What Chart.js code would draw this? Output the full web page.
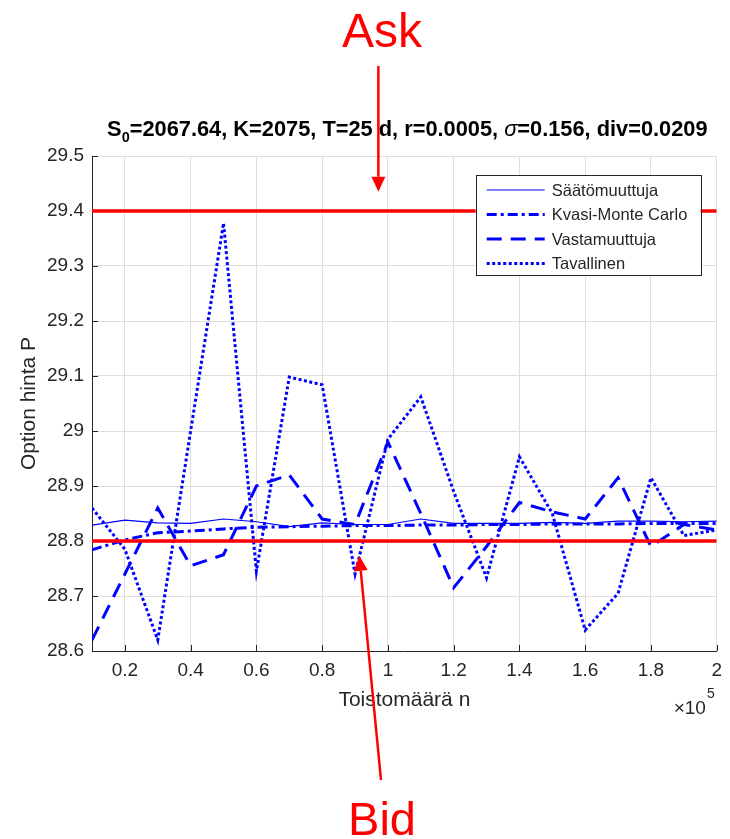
<!DOCTYPE html>
<html><head><meta charset="utf-8">
<script src="https://cdn.jsdelivr.net/npm/chart.js@4.4.1/dist/chart.umd.min.js"></script>
<style>html,body{margin:0;padding:0;background:#fff;}canvas{display:block;}</style>
</head><body>
<canvas id="c" width="730" height="839"></canvas>
<script>
// ---- data (n = number of repetitions) ----
const nValues = [10000, 20000, 30000, 40000, 50000, 60000, 70000, 80000, 90000, 100000,
                 110000, 120000, 130000, 140000, 150000, 160000, 170000, 180000, 190000, 200000];
const saatomuuttuja   = [28.829, 28.838, 28.833, 28.832, 28.840, 28.835, 28.826, 28.833, 28.830, 28.830,
                         28.840, 28.832, 28.832, 28.832, 28.834, 28.832, 28.836, 28.836, 28.835, 28.836];
const kvasiMonteCarlo = [28.784, 28.802, 28.815, 28.818, 28.822, 28.825, 28.826, 28.827, 28.828, 28.828,
                         28.829, 28.829, 28.830, 28.830, 28.831, 28.831, 28.831, 28.832, 28.832, 28.832];
const vastamuuttuja   = [28.62, 28.74, 28.86, 28.755, 28.775, 28.90, 28.92, 28.84, 28.83, 28.98,
                         28.85, 28.715, 28.79, 28.87, 28.853, 28.84, 28.915, 28.79, 28.83, 28.82];
const tavallinen      = [28.86, 28.785, 28.62, 29.00, 29.378, 28.745, 29.098, 29.084, 28.74, 28.985,
                         29.062, 28.89, 28.733, 28.953, 28.85, 28.638, 28.705, 28.915, 28.81, 28.82];
const askPrice = 29.4;
const bidPrice = 28.8;
const seriesNames = ['Säätömuuttuja', 'Kvasi-Monte Carlo', 'Vastamuuttuja', 'Tavallinen'];
const xTickValues = [20000, 40000, 60000, 80000, 100000, 120000, 140000, 160000, 180000, 200000];
const xTickLabels = ['0.2', '0.4', '0.6', '0.8', '1', '1.2', '1.4', '1.6', '1.8', '2'];
const yTickValues = [28.6, 28.7, 28.8, 28.9, 29.0, 29.1, 29.2, 29.3, 29.4, 29.5];
const yTickLabels = ['28.6', '28.7', '28.8', '28.9', '29', '29.1', '29.2', '29.3', '29.4', '29.5'];
const askArrowPoint = {n: 97100, v: 29.435};
const bidArrowPoint = {n: 91300, v: 28.773};

// ---- styles ----
const TXT = '#262626';
const FAM = '"Liberation Sans", Arial, Helvetica, sans-serif';
const BLUE = '#0000ff';
const RED = '#ff0000';
Chart.defaults.font.family = FAM;

function pts(arr) { return nValues.map((n, i) => ({x: n, y: arr[i]})); }
function flat(v) { return [{x: nValues[0], y: v}, {x: nValues[nValues.length - 1], y: v}]; }

const blueStyles = [
  {borderWidth: 1.2, borderDash: []},
  {borderWidth: 3, borderDash: [10, 4, 3, 4]},
  {borderWidth: 3, borderDash: [15, 9]},
  {borderWidth: 3, borderDash: [3, 2.5]}
];
const blueData = [saatomuuttuja, kvasiMonteCarlo, vastamuuttuja, tavallinen];

function drawArrow(ctx, x0, y0, x1, y1) {
  const ang = Math.atan2(y1 - y0, x1 - x0);
  const L = 15, W = 7;
  const bx = x1 - L * Math.cos(ang), by = y1 - L * Math.sin(ang);
  ctx.strokeStyle = RED; ctx.fillStyle = RED; ctx.lineWidth = 2.5; ctx.setLineDash([]);
  ctx.beginPath(); ctx.moveTo(x0, y0); ctx.lineTo(bx, by); ctx.stroke();
  ctx.beginPath();
  ctx.moveTo(x1, y1);
  ctx.lineTo(bx + W * Math.sin(ang), by - W * Math.cos(ang));
  ctx.lineTo(bx - W * Math.sin(ang), by + W * Math.cos(ang));
  ctx.closePath(); ctx.fill();
}

const extras = {
  id: 'extras',
  beforeDatasetsDraw(chart) {
    const {ctx, chartArea: a, scales: {x, y}} = chart;
    ctx.save();
    ctx.strokeStyle = TXT; ctx.lineWidth = 1;
    ctx.beginPath();
    yTickValues.forEach(v => { const py = Math.round(y.getPixelForValue(v)) + 0.5; ctx.moveTo(a.left, py); ctx.lineTo(a.left + 6, py); });
    xTickValues.forEach(v => { const px = Math.round(x.getPixelForValue(v)) + 0.5; ctx.moveTo(px, a.bottom); ctx.lineTo(px, a.bottom - 6); });
    ctx.stroke();
    ctx.restore();
  },
  afterDraw(chart) {
    const {ctx, chartArea: a, scales: {x, y}} = chart;
    ctx.save();
    // title
    const segs = [
      {t: 'S', f: 'bold 21.8px ' + FAM, dy: 0},
      {t: '0', f: 'bold 14.5px ' + FAM, dy: 6},
      {t: '=2067.64, K=2075, T=25 d, r=0.0005, ', f: 'bold 21.8px ' + FAM, dy: 0},
      {t: 'σ', f: 'italic 21.8px ' + FAM, dy: 0},
      {t: '=0.156, div=0.0209', f: 'bold 21.8px ' + FAM, dy: 0}
    ];
    let total = 0;
    segs.forEach(s => { ctx.font = s.f; s.w = ctx.measureText(s.t).width; total += s.w; });
    let tx = (a.left + a.right) / 2 + 3 - total / 2;
    ctx.fillStyle = '#000'; ctx.textBaseline = 'alphabetic'; ctx.textAlign = 'left';
    segs.forEach(s => { ctx.font = s.f; ctx.fillText(s.t, tx, 136 + s.dy); tx += s.w; });

    // exponent label
    ctx.fillStyle = TXT;
    ctx.font = '19px ' + FAM;
    const w1 = ctx.measureText('×10').width;
    ctx.font = '14px ' + FAM;
    const w2 = ctx.measureText('5').width;
    const ex = a.right - w1 - w2;
    ctx.font = '19px ' + FAM; ctx.fillText('×10', ex - 3, 714);
    ctx.font = '14px ' + FAM; ctx.fillText('5', ex - 3 + w1 + 1, 698);

    // legend
    const bw = 225, bh = 100;
    const bx = a.right - 16 - bw, by = a.top + 19;
    ctx.fillStyle = '#fff'; ctx.fillRect(bx, by, bw, bh);
    ctx.strokeStyle = TXT; ctx.lineWidth = 1; ctx.setLineDash([]);
    ctx.strokeRect(Math.round(bx) + 0.5, Math.round(by) + 0.5, bw, bh);
    seriesNames.forEach((name, i) => {
      const ry = by + 15 + i * 24.5;
      const st = blueStyles[i];
      ctx.strokeStyle = BLUE; ctx.lineWidth = st.borderWidth; ctx.setLineDash(st.borderDash);
      ctx.beginPath(); ctx.moveTo(bx + 11, ry); ctx.lineTo(bx + 69, ry); ctx.stroke();
      ctx.setLineDash([]);
      ctx.fillStyle = TXT; ctx.font = '16.5px ' + FAM; ctx.textBaseline = 'middle';
      ctx.fillText(name, bx + 76, ry + 1);
    });

    // annotations
    ctx.textBaseline = 'alphabetic'; ctx.textAlign = 'center';
    ctx.fillStyle = RED; ctx.font = '48px ' + FAM;
    ctx.fillText('Ask', 382, 47);
    ctx.font = '47px ' + FAM;
    ctx.fillText('Bid', 382, 835);
    const ax = x.getPixelForValue(askArrowPoint.n), ay = y.getPixelForValue(askArrowPoint.v);
    drawArrow(ctx, ax, 66, ax, ay);
    const bxp = x.getPixelForValue(bidArrowPoint.n), byp = y.getPixelForValue(bidArrowPoint.v);
    drawArrow(ctx, 381, 780, bxp, byp);
    ctx.restore();
  }
};

const datasets = [
  {label: 'Ask', data: flat(askPrice), borderColor: RED, borderWidth: 3.5, order: 0},
  {label: 'Bid', data: flat(bidPrice), borderColor: RED, borderWidth: 3.5, order: 0}
];
seriesNames.forEach((name, i) => {
  datasets.push({label: name, data: pts(blueData[i]), borderColor: BLUE,
    borderWidth: blueStyles[i].borderWidth, borderDash: blueStyles[i].borderDash, order: 1});
});

new Chart(document.getElementById('c'), {
  type: 'line',
  data: {datasets},
  options: {
    responsive: false, animation: false, devicePixelRatio: 1,
    layout: {padding: {left: 0, right: 12, top: 156, bottom: 126}},
    elements: {point: {radius: 0, hoverRadius: 0}, line: {tension: 0, fill: false, borderCapStyle: 'butt'}},
    plugins: {legend: {display: false}, tooltip: {enabled: false}, title: {display: false}},
    events: [],
    scales: {
      x: {
        type: 'linear', min: 10000, max: 200000,
        afterBuildTicks: s => { s.ticks = xTickValues.map(v => ({value: v})); },
        afterFit: s => { s.height = 62; },
        grid: {color: '#dedede', drawTicks: false},
        border: {color: TXT, width: 1},
        ticks: {padding: 8, color: TXT, font: {size: 19}, maxRotation: 0, autoSkip: false,
                callback: (v, i) => xTickLabels[i]},
        title: {display: true, text: 'Toistomäärä n', color: TXT, font: {size: 21}, padding: {top: 0, bottom: 0}}
      },
      y: {
        type: 'linear', min: 28.6, max: 29.5,
        afterBuildTicks: s => { s.ticks = yTickValues.map(v => ({value: v})); },
        afterFit: s => { s.width = 92; },
        grid: {color: '#dedede', drawTicks: false},
        border: {color: TXT, width: 1},
        ticks: {padding: 8, color: TXT, font: {size: 19}, autoSkip: false,
                callback: (v, i) => yTickLabels[i]},
        title: {display: true, text: 'Option hinta P', color: TXT, font: {size: 21}, padding: {top: 17, bottom: 0}}
      }
    }
  },
  plugins: [extras]
});
</script>
</body></html>
